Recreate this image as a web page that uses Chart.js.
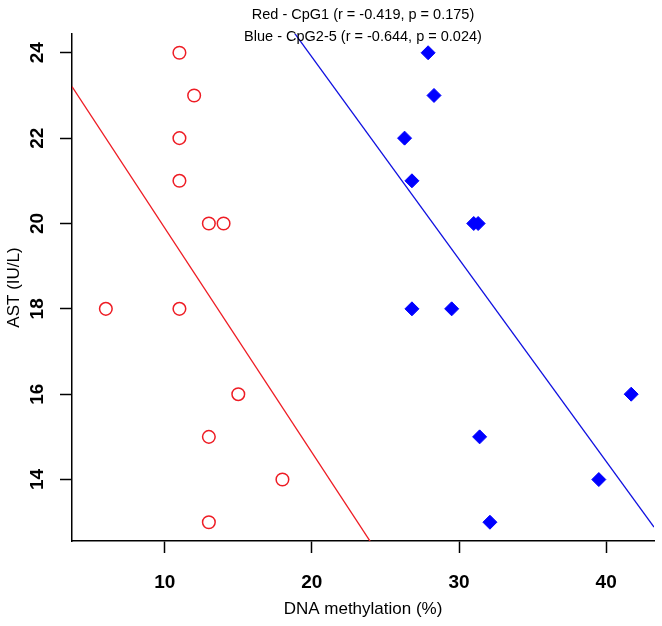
<!DOCTYPE html>
<html lang="en">
<head>
  <meta charset="UTF-8">
  <title>AST vs DNA methylation</title>
  <script src="https://cdn.jsdelivr.net/npm/chart.js"></script>
  <style>
    html, body { margin: 0; padding: 0; background: #fff; }
    #wrap { width: 662px; height: 626px; }
  </style>
</head>
<body>
  <div id="wrap"><canvas id="astChart" width="662" height="626"></canvas></div>

  <script>
    // AST (IU/L) for each subject, same order in both series
    const astValues = [24, 23, 22, 21, 20, 20, 18, 18, 16, 15, 14, 13];
    // CpG1 methylation (%) - red circles
    const cpg1Values = [11, 12, 11, 11, 13, 14, 6, 11, 15, 13, 18, 13];
    // CpG2-5 methylation (%) - blue diamonds
    const cpg25Values = [27.9, 28.3, 26.3, 26.8, 31.0, 31.3, 26.8, 29.5, 41.7, 31.4, 39.5, 32.1];

    const xTicks = [10, 20, 30, 40];
    const yTicks = [14, 16, 18, 20, 22, 24];
    const xRange = [3.7, 43.25];
    const yRange = [12.56, 24.44];

    const titleLines = [
      'Red - CpG1 (r = -0.419, p = 0.175)',
      'Blue - CpG2-5 (r = -0.644, p = 0.024)'
    ];

    // least squares fit, like abline(lm(y ~ x)) in R
    function fitLine(xs, ys) {
      const n = xs.length;
      const mx = xs.reduce((a, b) => a + b, 0) / n;
      const my = ys.reduce((a, b) => a + b, 0) / n;
      let sxy = 0, sxx = 0;
      for (let i = 0; i < n; i++) {
        sxy += (xs[i] - mx) * (ys[i] - my);
        sxx += (xs[i] - mx) * (xs[i] - mx);
      }
      const slope = sxy / sxx;
      const icept = my - slope * mx;
      return xRange.map(x => ({ x: x, y: icept + slope * x }));
    }

    const toPoints = xs => xs.map((x, i) => ({ x: x, y: astValues[i] }));

    const fontFamily = '"Liberation Sans", Arial, sans-serif';

    // rotated y tick labels and the two-line title
    const textPlugin = {
      id: 'textPlugin',
      afterDraw(chart) {
        const ctx = chart.ctx;
        const yScale = chart.scales.y;
        const area = chart.chartArea;
        ctx.save();
        ctx.fillStyle = '#000';
        ctx.font = 'bold 19px ' + fontFamily;
        ctx.textAlign = 'center';
        ctx.textBaseline = 'middle';
        yTicks.forEach(v => {
          const py = yScale.getPixelForValue(v);
          ctx.save();
          ctx.translate(38, py);
          ctx.rotate(-Math.PI / 2);
          ctx.fillText(String(v), 0, 0);
          ctx.restore();
        });
        ctx.font = '14.5px ' + fontFamily;
        const cx = (area.left + area.right) / 2;
        ctx.fillText(titleLines[0], cx, 15);
        ctx.fillText(titleLines[1], cx, 37);
        ctx.restore();
      }
    };

    const ctx = document.getElementById('astChart').getContext('2d');
    new Chart(ctx, {
      type: 'scatter',
      data: {
        datasets: [{
          label: 'CpG1',
          data: toPoints(cpg1Values),
          pointStyle: 'circle',
          pointRadius: 6.3,
          pointHoverRadius: 6.3,
          borderWidth: 1.5,
          borderColor: '#ee1c24',
          backgroundColor: 'rgba(0,0,0,0)'
        }, {
          label: 'CpG2-5',
          data: toPoints(cpg25Values),
          pointStyle: 'rectRot',
          pointRadius: 7,
          pointHoverRadius: 7,
          borderWidth: 1,
          borderColor: '#0000ff',
          backgroundColor: '#0000ff'
        }, {
          type: 'line',
          label: 'CpG1 fit',
          data: fitLine(cpg1Values, astValues),
          borderColor: '#ee1c24',
          borderWidth: 1.3,
          pointRadius: 0,
          fill: false,
          clip: 0
        }, {
          type: 'line',
          label: 'CpG2-5 fit',
          data: fitLine(cpg25Values, astValues),
          borderColor: '#1010e0',
          borderWidth: 1.3,
          pointRadius: 0,
          fill: false,
          clip: 0
        }]
      },
      options: {
        responsive: false,
        animation: false,
        layout: { padding: { top: 34, right: 7, left: 0, bottom: 0 } },
        plugins: {
          legend: { display: false },
          tooltip: { enabled: false },
          title: { display: false }
        },
        scales: {
          x: {
            type: 'linear',
            min: xRange[0],
            max: xRange[1],
            afterBuildTicks: s => { s.ticks = xTicks.map(v => ({ value: v })); },
            afterFit: s => { s.height = 85; },
            grid: { drawOnChartArea: false, drawTicks: true, tickLength: 12, color: '#000', tickWidth: 1.5 },
            border: { display: true, color: '#000', width: 1.5 },
            ticks: {
              color: '#000',
              font: { family: fontFamily, size: 19, weight: 'bold' },
              padding: 18,
              maxRotation: 0
            },
            title: {
              display: true,
              text: 'DNA methylation (%)',
              color: '#000',
              font: { family: fontFamily, size: 17 },
              padding: { top: 0, bottom: 6 }
            }
          },
          y: {
            type: 'linear',
            min: yRange[0],
            max: yRange[1],
            afterBuildTicks: s => { s.ticks = yTicks.map(v => ({ value: v })); },
            afterFit: s => { s.width = 72; },
            grid: { drawOnChartArea: false, drawTicks: true, tickLength: 12, color: '#000', tickWidth: 1.5 },
            border: { display: true, color: '#000', width: 1.5 },
            ticks: { display: false },
            title: {
              display: true,
              text: 'AST (IU/L)',
              color: '#000',
              font: { family: fontFamily, size: 17 },
              padding: { top: 4, bottom: 0 }
            }
          }
        }
      },
      plugins: [textPlugin]
    });
  </script>
</body>
</html>
